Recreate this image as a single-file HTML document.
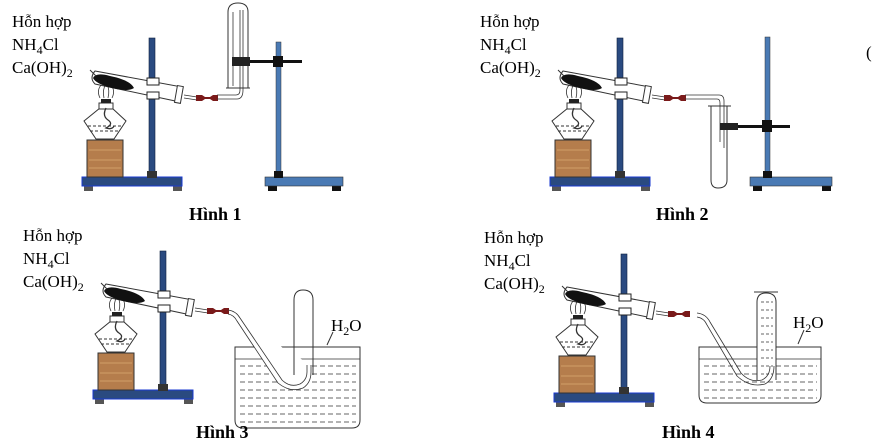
<!DOCTYPE html>
<html><head><meta charset="utf-8"><style>
html,body{margin:0;padding:0;background:#fff;width:887px;height:448px;overflow:hidden}
svg{display:block}
text{font-family:"Liberation Serif",serif;font-size:17px;fill:#000}
.b{font-weight:bold;font-size:18px}
</style></head><body>
<svg width="887" height="448" viewBox="0 0 887 448" xmlns="http://www.w3.org/2000/svg">
<defs>
<g id="app">
  <rect x="84" y="186" width="9" height="5" fill="#555"/>
  <rect x="173" y="186" width="9" height="5" fill="#555"/>
  <rect x="82" y="177" width="100" height="9" fill="#2a4a80" stroke="#1a3ad0" stroke-width="1"/>
  <rect x="149" y="38" width="6" height="134" fill="#2a4a80" stroke="#102040" stroke-width="0.6"/>
  <rect x="147" y="171" width="10" height="7" fill="#333"/>
  <rect x="87" y="140" width="36" height="37" fill="#b57d4c" stroke="#333" stroke-width="1"/>
  <path d="M89,150 h32 M89,160 h32 M89,168 h32" stroke="#c8935e" stroke-width="1.5"/>
  <path d="M84,121 L100,108 L112,108 L126,121 L114,139 L96,139 Z" fill="#fff" stroke="#333" stroke-width="1"/>
  <rect x="99" y="103" width="14" height="6" fill="#fff" stroke="#333"/>
  <rect x="101" y="99" width="10" height="4" fill="#222"/>
  <path d="M88,126 h34 M90,131 h30" stroke="#333" stroke-dasharray="3,2"/>
  <path d="M106,108 q-4,8 2,12 q6,4 -2,8 q6,2 8,-2" stroke="#333" fill="none" stroke-width="1.3"/>
  <path d="M100,98 q-4,-8 2,-14 M104,98 q-2,-8 2,-14 M108,98 q2,-8 -1,-14 M112,98 q4,-8 -2,-14" stroke="#333" fill="none" stroke-width="0.8"/>
  <path d="M95,71 L182,87 L180,102 L95,84 Q89,78 95,71 Z" fill="#fff" stroke="#333" stroke-width="1"/>
  <path d="M93,78 Q96,72 110,76 Q130,80 134,88 Q128,92 112,88 Q96,84 93,78 Z" fill="#111"/>
  <line x1="90" y1="70" x2="96" y2="76" stroke="#333"/>
  <rect x="176" y="86" width="6" height="17" transform="rotate(10 179 94)" fill="#fff" stroke="#333"/>
  <rect x="147" y="78" width="12" height="7" fill="#fff" stroke="#222"/>
  <rect x="147" y="92" width="12" height="7" fill="#fff" stroke="#222"/>
  <path d="M184,95 L197,97 M184,98 L197,100" stroke="#333" stroke-width="0.8"/>
  <path d="M196,95 h6 l3,2 h5 l3,-2 h5 v6 h-5 l-3,-2 h-5 l-3,2 h-6 Z" fill="#7a1a1a"/>
</g>
</defs>

<use href="#app"/>
<text x="12" y="27">Hỗn hợp</text>
<text x="12" y="50">NH<tspan font-size="12" dy="4">4</tspan><tspan dy="-4">Cl</tspan></text>
<text x="12" y="73">Ca(OH)<tspan font-size="12" dy="4">2</tspan></text>
<path d="M217,95 H236 Q240,95 240,90 V10 M217,99 H237 Q243,99 243,90 V10" stroke="#333" fill="none" stroke-width="0.8"/>
<path d="M228,88 V12 Q228,3 238,3 Q248,3 248,12 V88 M226,88 H250" stroke="#333" fill="none" stroke-width="1"/>
<line x1="233" y1="12" x2="233" y2="86" stroke="#333" stroke-width="0.8"/>
<rect x="268" y="186" width="9" height="5" fill="#111"/>
<rect x="332" y="186" width="9" height="5" fill="#111"/>
<rect x="265" y="177" width="78" height="9" fill="#4a7ab4" stroke="#333" stroke-width="0.6"/>
<rect x="276" y="42" width="5" height="132" fill="#4a7ab4" stroke="#333" stroke-width="0.5"/>
<rect x="274" y="171" width="9" height="7" fill="#111"/>
<rect x="232" y="60" width="70" height="3" fill="#111"/>
<rect x="232" y="57" width="18" height="9" fill="#222"/>
<rect x="273" y="56" width="10" height="11" fill="#111"/>
<text class="b" x="189" y="220">Hình 1</text>

<use href="#app" transform="translate(468,0)"/>
<text x="480" y="27">Hỗn hợp</text>
<text x="480" y="50">NH<tspan font-size="12" dy="4">4</tspan><tspan dy="-4">Cl</tspan></text>
<text x="480" y="73">Ca(OH)<tspan font-size="12" dy="4">2</tspan></text>
<path d="M685,95 H719 Q724,95 724,101 V148 M685,99 H717 Q720,99 720,103 V142" stroke="#333" fill="none" stroke-width="0.8"/>
<path d="M711,106 V180 Q711,188 718,188 Q727,188 727,180 V106 M708,106 H731" stroke="#333" fill="none" stroke-width="1"/>
<rect x="753" y="186" width="9" height="5" fill="#111"/>
<rect x="822" y="186" width="9" height="5" fill="#111"/>
<rect x="750" y="177" width="82" height="9" fill="#4a7ab4" stroke="#333" stroke-width="0.6"/>
<rect x="765" y="37" width="5" height="137" fill="#4a7ab4" stroke="#333" stroke-width="0.5"/>
<rect x="763" y="171" width="9" height="7" fill="#111"/>
<rect x="720" y="125" width="70" height="3" fill="#111"/>
<rect x="720" y="123" width="18" height="7" fill="#222"/>
<rect x="762" y="120" width="10" height="12" fill="#111"/>
<text class="b" x="656" y="220">Hình 2</text>

<use href="#app" transform="translate(11,213)"/>
<text x="23" y="241">Hỗn hợp</text>
<text x="23" y="264">NH<tspan font-size="12" dy="4">4</tspan><tspan dy="-4">Cl</tspan></text>
<text x="23" y="287">Ca(OH)<tspan font-size="12" dy="4">2</tspan></text>
<path d="M235,347 H360 V420 Q360,428 352,428 H243 Q235,428 235,420 Z" fill="#fff" stroke="#333"/>
<line x1="235" y1="359" x2="360" y2="359" stroke="#333" stroke-width="0.8"/>
<path d="M240,366 H356 M240,374 H356 M240,382 H356 M240,390 H356 M240,398 H356 M240,406 H356 M240,414 H356 M240,422 H356" stroke="#333" stroke-dasharray="5,3" stroke-width="0.8"/>
<path d="M228,310 Q236,311 240,318 L282,380 Q290,388 300,384 Q307,380 307,372 V365 M228,314 Q234,315 237,321 L278,383 Q290,393 303,388 Q311,383 311,372 V365" stroke="#333" fill="#fff" stroke-width="0.8"/>
<path d="M294,375 V300 Q294,290 303,290 Q313,290 313,300 V375" stroke="#333" fill="none" stroke-width="1"/>
<path d="M327,345 L333,332" stroke="#333"/>
<text x="331" y="331">H<tspan font-size="12" dy="4">2</tspan><tspan dy="-4">O</tspan></text>
<text class="b" x="196" y="438">Hình 3</text>

<use href="#app" transform="translate(472,216)"/>
<text x="484" y="243">Hỗn hợp</text>
<text x="484" y="266">NH<tspan font-size="12" dy="4">4</tspan><tspan dy="-4">Cl</tspan></text>
<text x="484" y="289">Ca(OH)<tspan font-size="12" dy="4">2</tspan></text>
<path d="M699,347 H821 V395 Q821,403 813,403 H707 Q699,403 699,395 Z" fill="#fff" stroke="#333"/>
<line x1="699" y1="359" x2="821" y2="359" stroke="#333" stroke-width="0.8"/>
<path d="M704,366 H817 M704,374 H817 M704,382 H817 M704,390 H817 M704,398 H817" stroke="#333" stroke-dasharray="5,3" stroke-width="0.8"/>
<path d="M757,380 V302 Q757,293 766,293 Q776,293 776,302 V380 M754,292 H778" stroke="#333" fill="#fff" stroke-width="1"/>
<path d="M761,302 H773 M761,310 H773 M761,318 H773 M761,326 H773 M761,334 H773 M761,342 H773 M761,350 H773 M761,358 H773 M761,366 H773 M761,374 H773" stroke="#333" stroke-dasharray="3,2" stroke-width="0.8"/>
<path d="M697,313 Q706,314 710,322 L741,373 Q750,383 762,380 Q770,376 770,366 M697,317 Q704,318 707,325 L737,376 Q750,388 765,384 Q774,379 774,366" stroke="#333" fill="none" stroke-width="0.8"/>
<path d="M798,344 L804,330" stroke="#333"/>
<text x="793" y="328">H<tspan font-size="12" dy="4">2</tspan><tspan dy="-4">O</tspan></text>
<text class="b" x="662" y="438">Hình 4</text>

<text x="866" y="58" font-size="14">(</text>
</svg>
</body></html>
